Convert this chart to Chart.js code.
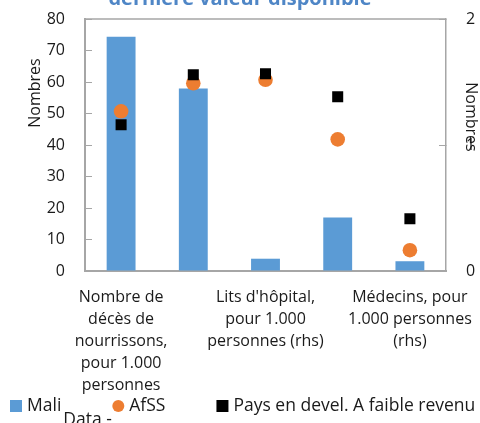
<!DOCTYPE html>
<html>
<head>
<meta charset="utf-8">
<script src="https://cdn.jsdelivr.net/npm/chart.js@4.4.1/dist/chart.umd.min.js"></script>
<style>
  html, body { margin: 0; padding: 0; background: #fff; }
  #wrap { width: 480px; height: 423px; }
</style>
</head>
<body>
<div id="wrap"><canvas id="chart"></canvas></div>
<script>
// categories 2 and 4 have no visible label in the source chart
const categories = [
  ['Nombre de', 'décès de', 'nourrissons,', 'pour 1.000', 'personnes'],
  '',
  ["Lits d'hôpital,", 'pour 1.000', 'personnes (rhs)'],
  '',
  ['Médecins, pour', '1.000 personnes', '(rhs)']
];

// values read against the left axis (rhs items included)
const mali = [74.4, 57.9, 3.9, 17.0, 3.1];
const afss = [50.7, 59.6, 60.7, 41.8, 6.6];
const paysFaibleRevenu = [46.4, 62.3, 62.6, 55.3, 16.6];

const leftTicks = [0, 10, 20, 30, 40, 50, 60, 70, 80];
const rightTicks = [0, 1, 2];

const titleText = 'dernière valeur disponible';
const axisTitle = 'Nombres';
const strayLegendText = 'Data -';

const FONT = "'Open Sans', 'Noto Sans', sans-serif";
const TEXT = '#1a1a1a';
const GREY = '#a6a6a6';

const decorPlugin = {
  id: 'decor',
  afterDraw(chart) {
    const { ctx, chartArea } = chart;
    ctx.save();

    // top edge of the plot frame
    ctx.strokeStyle = GREY;
    ctx.lineWidth = 1.5;
    ctx.beginPath();
    ctx.moveTo(chartArea.left, chartArea.top);
    ctx.lineTo(chartArea.right, chartArea.top);
    ctx.stroke();

    // title, cut off at the top like the source
    ctx.font = `bold 20px ${FONT}`;
    ctx.fillStyle = '#4f86c6';
    ctx.textAlign = 'center';
    ctx.textBaseline = 'alphabetic';
    ctx.fillText(titleText, chart.width / 2, 5);

    // axis titles
    ctx.font = `16px ${FONT}`;
    ctx.fillStyle = TEXT;
    ctx.textBaseline = 'middle';
    ctx.save();
    ctx.translate(chartArea.left - 50, chartArea.top + 74);
    ctx.rotate(-Math.PI / 2);
    ctx.fillText(axisTitle, 0, 0);
    ctx.restore();
    ctx.save();
    ctx.translate(chartArea.right + 25, chartArea.top + 98);
    ctx.rotate(Math.PI / 2);
    ctx.fillText(axisTitle, 0, 0);
    ctx.restore();

    // legend
    const yMid = chart.height - 17;
    let x = 10;
    ctx.textAlign = 'left';
    ctx.font = `17.5px ${FONT}`;
    chart.data.datasets.forEach((ds, i) => {
      ctx.fillStyle = ds.backgroundColor;
      if (ds.pointStyle === 'circle') {
        ctx.beginPath();
        ctx.arc(x + 6, yMid, 6, 0, Math.PI * 2);
        ctx.fill();
      } else {
        ctx.fillRect(x, yMid - 6, 12, 12);
      }
      x += 17;
      ctx.fillStyle = TEXT;
      ctx.textBaseline = 'middle';
      ctx.fillText(ds.label, x, yMid);
      const w = ctx.measureText(ds.label).width;
      if (i === 0) {
        ctx.textBaseline = 'alphabetic';
        ctx.fillText(strayLegendText, x + w + 2, chart.height + 2);
      }
      x += w + 51;
    });

    ctx.restore();
  }
};

const noEdgePadding = (scale) => {
  scale.paddingTop = 0;
  scale.paddingBottom = 0;
  scale.paddingLeft = 0;
  scale.paddingRight = 0;
};

Chart.defaults.font.family = FONT;
Chart.defaults.font.size = 16;
Chart.defaults.color = TEXT;

new Chart(document.getElementById('chart'), {
  type: 'bar',
  data: {
    labels: categories,
    datasets: [
      {
        label: 'Mali',
        data: mali,
        backgroundColor: '#5b9bd5',
        pointStyle: 'rect',
        barPercentage: 0.4,
        categoryPercentage: 1,
        order: 3
      },
      {
        type: 'line',
        label: 'AfSS',
        data: afss,
        showLine: false,
        backgroundColor: '#ed7d31',
        borderColor: '#ed7d31',
        pointStyle: 'circle',
        pointRadius: 7.3,
        pointBorderWidth: 0,
        order: 2
      },
      {
        type: 'line',
        label: 'Pays en devel. A faible revenu',
        data: paysFaibleRevenu,
        showLine: false,
        backgroundColor: '#000000',
        borderColor: '#000000',
        pointStyle: 'rect',
        pointRadius: 7.8,
        pointBorderWidth: 0,
        order: 1
      }
    ]
  },
  options: {
    responsive: true,
    maintainAspectRatio: false,
    animation: false,
    events: [],
    layout: {
      padding: { top: 19, left: 0, right: 0, bottom: 0 }
    },
    plugins: {
      legend: { display: false },
      title: { display: false },
      tooltip: { enabled: false }
    },
    scales: {
      x: {
        offset: true,
        grid: { display: false },
        border: { display: true, color: GREY, width: 2 },
        ticks: {
          autoSkip: false,
          maxRotation: 0,
          padding: 7,
          font: { size: 16, lineHeight: 1.375 }
        },
        afterFit: (scale) => {
          scale.height = 152;
          noEdgePadding(scale);
        }
      },
      y: {
        position: 'left',
        min: 0,
        max: 80,
        grid: {
          drawOnChartArea: false,
          drawTicks: true,
          tickLength: -7,
          color: GREY
        },
        border: { display: true, color: GREY, width: 2 },
        ticks: { padding: 27 },
        afterBuildTicks: (scale) => { scale.ticks = leftTicks.map((v) => ({ value: v })); },
        afterFit: (scale) => {
          scale.width = 85;
          noEdgePadding(scale);
        }
      },
      y1: {
        position: 'right',
        min: 0,
        max: 2,
        grid: {
          drawOnChartArea: false,
          drawTicks: true,
          tickLength: -7,
          color: GREY
        },
        border: { display: true, color: GREY, width: 1.5 },
        ticks: { padding: 27 },
        afterBuildTicks: (scale) => { scale.ticks = rightTicks.map((v) => ({ value: v })); },
        afterFit: (scale) => {
          scale.width = 34;
          noEdgePadding(scale);
        }
      }
    }
  },
  plugins: [decorPlugin]
});
</script>
</body>
</html>
